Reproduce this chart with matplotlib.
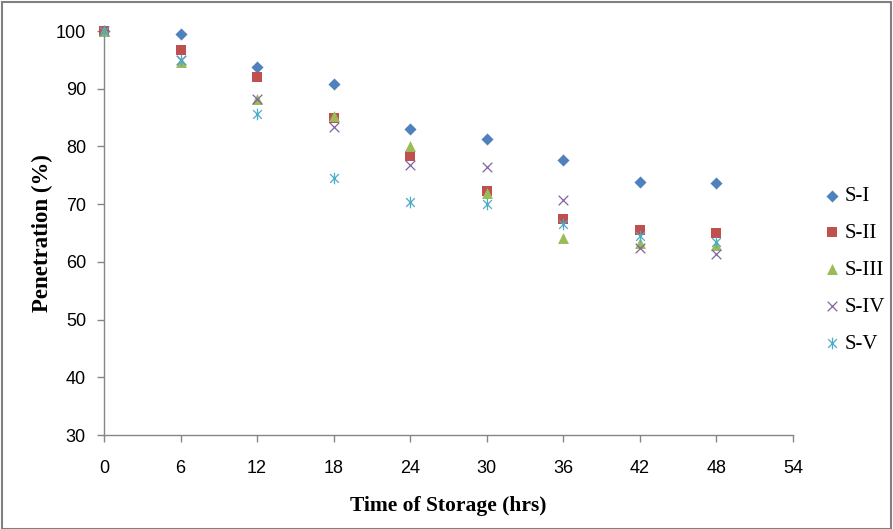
import matplotlib
matplotlib.use("Agg")
import matplotlib.pyplot as plt
from matplotlib.path import Path
from matplotlib.patches import Rectangle

hours = [0, 6, 12, 18, 24, 30, 36, 42, 48]
s1 = [100, 99.5, 93.7, 90.8, 83.1, 81.3, 77.6, 73.8, 73.6]
s2 = [100, 96.7, 92.1, 85.0, 78.3, 72.2, 67.5, 65.5, 65.0]
s3 = [100, 94.7, 88.3, 85.3, 80.1, 72.0, 64.2, 63.3, 62.9]
s4 = [100, 95.0, 88.3, 83.3, 76.8, 76.5, 70.8, 62.4, 61.3]
s5 = [100, 95.0, 85.6, 74.5, 70.3, 70.1, 66.5, 64.4, 63.5]
names = ["S-I", "S-II", "S-III", "S-IV", "S-V"]
xticks = [0, 6, 12, 18, 24, 30, 36, 42, 48, 54]
yticks = [30, 40, 50, 60, 70, 80, 90, 100]

star = Path([(0, -1), (0, 1), (-0.75, -0.75), (0.75, 0.75), (-0.75, 0.75), (0.75, -0.75)],
            [Path.MOVETO, Path.LINETO, Path.MOVETO, Path.LINETO, Path.MOVETO, Path.LINETO])

styles = [
    dict(marker="D", color="#4F81BD", s=38, lw=0),
    dict(marker="s", color="#C0504D", s=60, lw=0),
    dict(marker="^", color="#9BBB59", s=62, lw=0),
    dict(marker="x", color="#8064A2", s=48, lw=0.9),
    dict(marker=star, color="#4BACC6", s=70, lw=0.9),
]

fig = plt.figure(figsize=(8.93, 5.29), dpi=100)
ax = fig.add_axes([104/893, 1-435/529, (793-104)/893, (435-31)/529])
for data, name, st in zip([s1, s2, s3, s4, s5], names, styles):
    ax.scatter(hours, data, marker=st["marker"], color=st["color"], s=st["s"],
               linewidths=st["lw"], label=name, clip_on=False, zorder=3)

ax.set_xlim(0, 54)
ax.set_ylim(30, 100)
ax.set_xticks(xticks)
ax.set_yticks(yticks)
tick_font = dict(family="Liberation Sans", size=13)
ax.set_xticklabels([str(v) for v in xticks], fontdict=tick_font)
ax.set_yticklabels([str(v) for v in yticks], fontdict=tick_font)
for sp in ["top", "right"]:
    ax.spines[sp].set_visible(False)
for sp in ["left", "bottom"]:
    ax.spines[sp].set_color("#868686")
    ax.spines[sp].set_linewidth(1.0)
ax.tick_params(axis="both", color="#868686", length=5, width=1, direction="out")
ax.tick_params(axis="x", pad=13)
ax.tick_params(axis="y", pad=8)

ax.set_xlabel("Time of Storage (hrs)", fontdict=dict(family="Liberation Serif", weight="bold", size=15.5),
              labelpad=14)
ax.set_ylabel("Penetration (%)", fontdict=dict(family="Liberation Serif", weight="bold", size=16.5),
              labelpad=2)

leg = ax.legend(loc="center left", bbox_to_anchor=(823/893, 1-270/529),
                bbox_transform=fig.transFigure, frameon=False,
                prop=dict(family="Liberation Serif", size=15), handletextpad=0.15,
                labelspacing=0.83, handlelength=0.9, borderaxespad=0, borderpad=0)

fig.patches.append(Rectangle((0.002, 0.0), 0.996, 0.997, transform=fig.transFigure,
                             fill=False, edgecolor="#808080", linewidth=1.5))

fig.savefig("out.png", dpi=100)
